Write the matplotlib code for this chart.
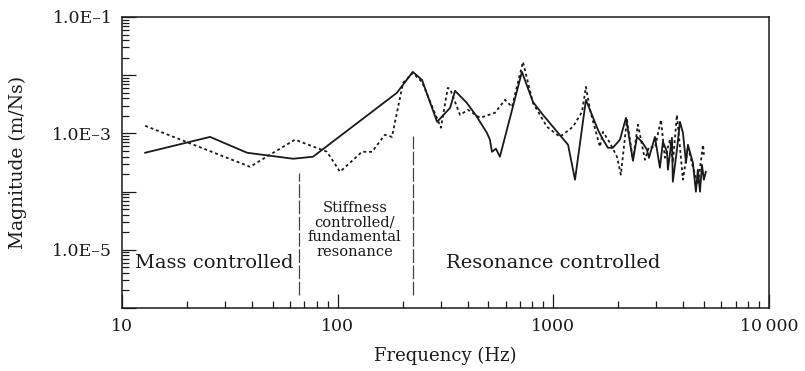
import matplotlib
matplotlib.use('Agg')
import matplotlib.pyplot as plt
from matplotlib.ticker import LogLocator, NullFormatter

# solid trace
freq_a = [12.8, 25.6, 38.0, 62.1, 76.8, 188, 223, 246, 289, 332, 350, 397, 442, 492, 508,
          519, 542, 565, 715, 804, 895, 1170, 1260, 1416, 1610, 1699, 1791, 1888, 2036,
          2171, 2339, 2442, 2576, 2717, 2775, 2958, 3119, 3221, 3365, 3397, 3548, 3581,
          3741, 3864, 3990, 4121, 4207, 4436, 4581, 4677, 4786, 4887, 4989, 5093]
mag_a = [4.65e-4, 8.7e-4, 4.65e-4, 3.67e-4, 3.97e-4, 4.97e-3, 1.14e-2, 8.3e-3, 1.58e-3,
         2.75e-3, 5.38e-3, 3.35e-3, 1.93e-3, 1.02e-3, 7.8e-4, 4.83e-4, 5.44e-4, 3.97e-4,
         1.14e-2, 3.48e-3, 2.08e-3, 6.37e-4, 1.60e-4, 3.77e-3, 1.15e-3, 7.8e-4, 5.66e-4,
         5.66e-4, 7.8e-4, 1.85e-3, 3.39e-4, 8.7e-4, 7.18e-4, 5.23e-4, 3.81e-4, 8.7e-4,
         2.57e-4, 7.18e-4, 4.83e-4, 2.38e-4, 8.4e-4, 1.48e-4, 5.23e-4, 1.58e-3, 1.02e-3,
         3.13e-4, 6.37e-4, 3.13e-4, 9.95e-5, 2.38e-4, 9.95e-5, 2.89e-4, 1.60e-4, 2.19e-4]

# dotted trace
freq_b = [12.8, 39.2, 63.4, 89.2, 102.5, 129.6, 144.3, 165.6, 178.5, 200.9, 223, 246, 301,
          324, 332, 369, 402, 457, 536, 597, 643, 723, 804, 934, 1073, 1233, 1358, 1416,
          1479, 1644, 1699, 1829, 1972, 2056, 2193, 2339, 2467, 2660, 2775, 2958, 3155,
          3289, 3475, 3581, 3741, 3990, 4207, 4436, 4677, 4943, 4989]
mag_b = [1.35e-3, 2.67e-4, 7.8e-4, 4.83e-4, 2.19e-4, 4.83e-4, 4.83e-4, 9.46e-4, 8.7e-4,
         7.38e-3, 1.09e-2, 7.67e-3, 1.25e-3, 6.05e-3, 5.82e-3, 2.08e-3, 2.54e-3, 1.85e-3,
         2.26e-3, 3.77e-3, 2.86e-3, 1.69e-2, 3.35e-3, 1.30e-3, 8.7e-4, 1.30e-3, 2.35e-3,
         6.3e-3, 2.54e-3, 5.89e-4, 1.06e-3, 6.9e-4, 3.97e-4, 1.95e-4, 1.71e-3, 3.52e-4,
         1.41e-3, 3.52e-4, 5.89e-4, 5.66e-4, 1.71e-3, 3.81e-4, 7.8e-4, 3.13e-4, 2.08e-3,
         1.60e-4, 5.89e-4, 2.67e-4, 1.31e-4, 6.37e-4, 4.3e-4]

# region boundaries (Hz) and their vertical extent
bound_freq = [66.2, 223]
bound_top = [2.1e-4, 9.1e-4]
bound_bottom = 1.7e-6

x_ticks = [10, 100, 1000, 10000]
x_labels = ['10', '100', '1000', '10\u2009000']
y_ticks = [1e-1, 1e-2, 1e-3, 1e-4, 1e-5, 1e-6]
y_labels = ['1.0E\u20131', '', '1.0E\u20133', '', '1.0E\u20135', '']

plt.rcParams['font.family'] = ['DejaVu Serif']
ink = '#1a1a1a'

fig = plt.figure(figsize=(8.05, 3.71), dpi=100)
ax = fig.add_axes([0.1516, 0.1698, 0.8037, 0.7844])

ax.plot(freq_a, mag_a, color=ink, lw=1.3)
ax.plot(freq_b, mag_b, color=ink, lw=1.3, linestyle=(0, (1.6, 1.6)))
for f, top in zip(bound_freq, bound_top):
    ax.plot([f, f], [bound_bottom, top], color='#444444', lw=0.9, dashes=(11, 2))

ax.set_xscale('log')
ax.set_yscale('log')
ax.set_xlim(10, 10000)
ax.set_ylim(1e-6, 1e-1)

ax.set_xticks(x_ticks)
ax.set_xticklabels(x_labels)
ax.set_yticks(y_ticks)
ax.set_yticklabels(y_labels)
ax.xaxis.set_minor_locator(LogLocator(base=10, subs=range(2, 10), numticks=20))
ax.yaxis.set_minor_locator(LogLocator(base=10, subs=range(2, 10), numticks=20))
ax.xaxis.set_minor_formatter(NullFormatter())
ax.yaxis.set_minor_formatter(NullFormatter())
ax.tick_params(which='both', direction='in', colors=ink, labelsize=12.5, width=0.9)
ax.tick_params(which='major', length=10, pad=7)
ax.tick_params(which='minor', length=5)
for s in ax.spines.values():
    s.set_color(ink)
    s.set_linewidth(1.1)

ax.set_xlabel('Frequency (Hz)', fontsize=13, color=ink, labelpad=9)
ax.set_ylabel('Magnitude (m/Ns)', fontsize=13.5, color=ink, labelpad=18)

ax.text(11.5, 6.0e-6, 'Mass controlled', fontsize=14, color=ink, va='center', ha='left')
ax.text(1000, 6.0e-6, 'Resonance controlled', fontsize=14, color=ink, va='center', ha='center')
ax.text(120, 2.2e-5, 'Stiffness\ncontrolled/\nfundamental\nresonance', fontsize=10.5,
        color=ink, ha='center', va='center', linespacing=1.05)

fig.savefig('out.png', dpi=100)
